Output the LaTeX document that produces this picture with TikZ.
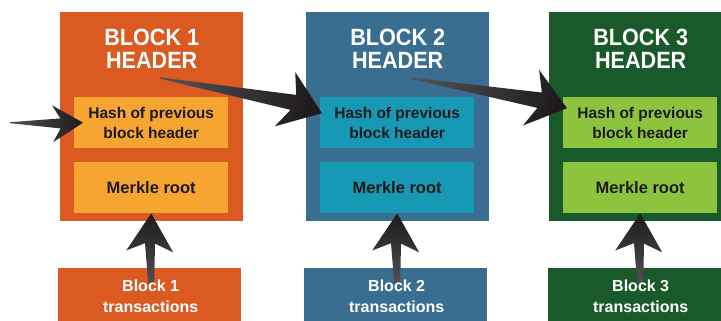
\documentclass[tikz,border=0pt]{standalone}
\usepackage{fontspec}
\setmainfont{Liberation Sans}
\newfontfamily\titlefont[FakeStretch=0.92]{Liberation Sans}
\usetikzlibrary{calc}

\definecolor{orangeblk}{HTML}{DA5A22}
\definecolor{orangebox}{HTML}{F6A531}
\definecolor{blueblk}{HTML}{3A6E91}
\definecolor{bluebox}{HTML}{1798B5}
\definecolor{greenblk}{HTML}{1A5A2A}
\definecolor{greenbox}{HTML}{8CC43E}
\definecolor{inkdark}{HTML}{1E1A1C}
\definecolor{inktail}{HTML}{505055}

% Tapered arrow: #1 tail, #2 centre of the barb line, #3 tip,
% #4 tail half width, #5 shaft half width, #6 head half width,
% #7 distance from barb line to shaft join, #8 shading angle
\newcommand\fatarrow[8]{%
  \coordinate (fa-join) at ($(#2)!#7!(#3)$);
  \shade[top color=inkdark, bottom color=inktail, shading angle=#8]
    ($(#1)!#4!90:(#2)$) --
    ($(fa-join)!#5!90:(#3)$) --
    ($(#2)!#6!90:(#3)$) --
    (#3) --
    ($(#2)!#6!-90:(#3)$) --
    ($(fa-join)!#5!-90:(#3)$) --
    ($(#1)!#4!-90:(#2)$) -- cycle;
}

\tikzset{
  header/.style={fill=#1, draw=none, minimum width=183pt, minimum height=209pt,
    anchor=north west, inner sep=0pt},
  field/.style={fill=#1, draw=none, minimum width=154pt, minimum height=51pt,
    anchor=north west, inner sep=0pt, align=center, text=inkdark,
    font=\fontsize{15.5}{20}\selectfont\bfseries},
  rootfield/.style={field=#1, font=\fontsize{16.5}{20}\selectfont\bfseries},
  txbox/.style={fill=#1, draw=none, minimum width=183pt, minimum height=57pt,
    anchor=north west, inner sep=0pt},
  txtext/.style={text=white, align=center, inner sep=0pt,
    font=\fontsize{16}{21}\selectfont\bfseries},
  title/.style={text=white, align=center, inner sep=0pt,
    font=\titlefont\fontsize{23.5}{23}\selectfont\bfseries},
}

\begin{document}
\begin{tikzpicture}[x=1pt, y=-1pt]
\useasboundingbox (0,0) rectangle (721,321);
\clip (0,0) rectangle (721,321);
\fill[white] (0,0) rectangle (721,321);

% headers
\node[header=orangeblk] (b1) at (60,12) {};
\node[header=blueblk]   (b2) at (306,12) {};
\node[header=greenblk]  (b3) at (549,12) {};

\foreach \i in {1,2,3}{
  \node[title] (ti\i) at ($(b\i.north)+(0,36.5)$) {BLOCK \i\\HEADER};
}

% header fields
\node[field=orangebox] (h1) at ($(b1.north west)+(14,85)$) {Hash of previous\\block header};
\node[field=bluebox]   (h2) at ($(b2.north west)+(14,85)$) {Hash of previous\\block header};
\node[field=greenbox]  (h3) at ($(b3.north west)+(14,85)$) {Hash of previous\\block header};

\node[rootfield=orangebox] (m1) at ($(b1.north west)+(14,150)$) {Merkle root};
\node[rootfield=bluebox]   (m2) at ($(b2.north west)+(14,150)$) {Merkle root};
\node[rootfield=greenbox]  (m3) at ($(b3.north west)+(14,150)$) {Merkle root};

% transaction boxes (labels are set on top of the arrows further down)
\node[txbox=orangeblk] (t1) at (58,268)  {};
\node[txbox=blueblk]   (t2) at (304,268) {};
\node[txbox=greenblk]  (t3) at (548,268) {};

% incoming link into block 1
\coordinate (in0) at ($(h1.west)+(-64,0)$);
\coordinate (in0c) at ($(h1.west)+(-21.5,1)$);
\coordinate (in0t) at ($(h1.west)+(9,0)$);
\fatarrow{in0}{in0c}{in0t}{0.5pt}{5pt}{18.5pt}{8pt}{-90}

% header-to-header links
\coordinate (s12) at ($(b1.north west)+(100,66)$);
\coordinate (c12) at ($(h2.west)+(-35,-23.5)$);
\coordinate (e12) at ($(h2.west)+(2,-9.5)$);
\fatarrow{s12}{c12}{e12}{0.6pt}{8pt}{29pt}{9pt}{-102}

\coordinate (s23) at ($(b2.north west)+(104,66)$);
\coordinate (c23) at ($(h3.west)+(-32,-25)$);
\coordinate (e23) at ($(h3.west)+(4,-14.5)$);
\fatarrow{s23}{c23}{e23}{0.6pt}{8pt}{29pt}{9pt}{-101}

% transactions up to merkle roots
\foreach \i in {1,2,3}{
  \coordinate (s\i) at ($(m\i.south)+(0,70)$);
  \coordinate (c\i) at ($(m\i.south)+(-1.5,38)$);
  \coordinate (e\i) at ($(m\i.south)+(0,0)$);
  \fatarrow{s\i}{c\i}{e\i}{3pt}{5pt}{23.5pt}{8pt}{0}
  \node[txtext] (tx\i) at ($(t\i.north)+(1,28.5)$) {Block \i\\transactions};
}
\end{tikzpicture}
\end{document}
